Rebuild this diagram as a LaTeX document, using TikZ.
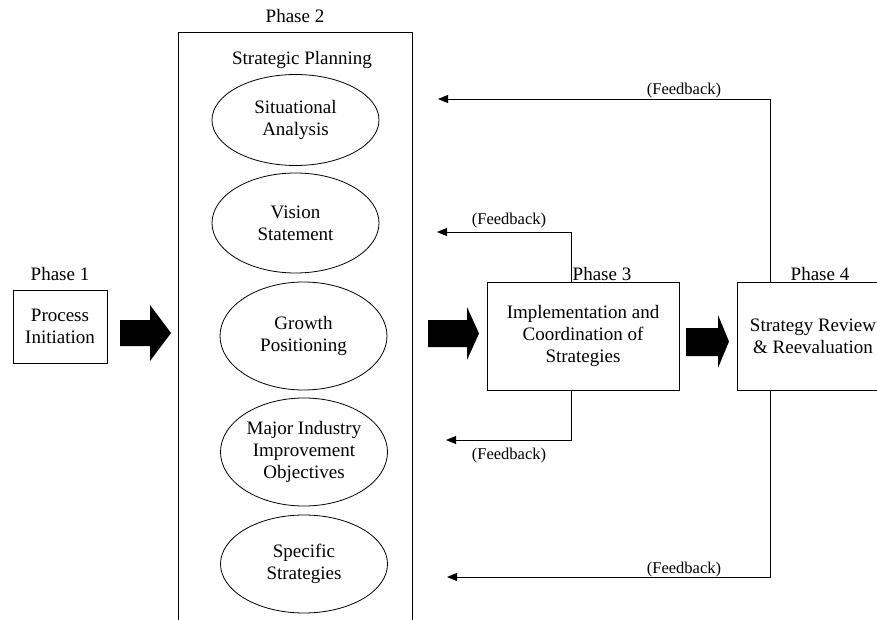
\documentclass[tikz,border=0pt]{standalone}
\usepackage{fontspec}
\setmainfont{Liberation Serif}
\usetikzlibrary{arrows.meta,shapes.geometric}
\begin{document}
\begin{tikzpicture}[x=1pt,y=-1pt,
  txt/.style={font=\fontsize{19}{22}\selectfont, align=center, inner sep=0pt},
  fbtxt/.style={font=\fontsize{16.5}{19}\selectfont, inner sep=0pt},
  boxnode/.style={txt, draw, line width=0.9pt},
  oval/.style={txt, draw, ellipse, line width=0.8pt, minimum width=167pt},
  fb/.style={line width=0.9pt, -{Triangle[length=10pt,width=8pt]}},
  blockarrow/.style={fill=black}
]
\useasboundingbox (0,0) rectangle (877,620);
\clip (0,0) rectangle (877,620);

% Phase 1
\node[txt] (ph1) at (60,274) {Phase 1};
\node[boxnode, minimum width=94pt, minimum height=73pt] (p1) at (60,326.5) {Process\\Initiation};

% Phase 2
\node[txt] (ph2) at (295,16) {Phase 2};
\node[draw, line width=0.9pt, minimum width=234pt, minimum height=620pt, inner sep=0pt] (p2) at (295,342) {};
\node[txt] (sp) at (302,60) {Strategic Planning};
\node[oval, minimum height=91pt] (e1) at (295.5,120) {Situational\\Analysis};
\node[oval, minimum height=100pt] (e2) at (295.5,223) {Vision\\Statement};
\node[oval, minimum height=108pt] (e3) at (303.5,336) {Growth\\Positioning};
\node[oval, minimum height=108pt] (e4) at (304,452) {Major Industry\\Improvement\\Objectives};
\node[oval, minimum height=98pt] (e5) at (304,564) {Specific\\Strategies};

% Phase 3
\node[txt] (ph3) at (602,274) {Phase 3};
\node[boxnode, minimum width=192pt, minimum height=108pt] (p3) at (583,336) {Implementation and\\Coordination of\\Strategies};

% Phase 4
\node[txt] (ph4) at (820,274) {Phase 4};
\node[boxnode, minimum width=152pt, minimum height=108pt] (p4) at (813,336) {Strategy Review\\\& Reevaluation};

% Block arrows
\fill[blockarrow] (120,320) -- (150,320) -- (150,305) -- (171,333) -- (150,361) -- (150,346) -- (120,346) -- cycle;
\fill[blockarrow] (428,320) -- (467,320) -- (467,307) -- (479,333.5) -- (467,360) -- (467,347) -- (428,347) -- cycle;
\fill[blockarrow] (686,328) -- (718,328) -- (718,315) -- (729,341.5) -- (718,368) -- (718,356) -- (686,356) -- cycle;

% Feedback connectors
\coordinate (fb0) at (438,99);
\coordinate (fb1) at (437,232);
\coordinate (fb2) at (446,440);
\coordinate (fb3) at (447,577);
\draw[fb] ([xshift=-43pt]p4.north) |- (fb0);
\draw[fb] ([xshift=-12pt]p3.north) |- (fb1);
\draw[fb] ([xshift=-12pt]p3.south) |- (fb2);
\draw[fb] ([xshift=-43pt]p4.south) |- (fb3);

\node[fbtxt] (l0) at (684,91) {(Feedback)};
\node[fbtxt] (l1) at (509,221) {(Feedback)};
\node[fbtxt] (l2) at (509,456) {(Feedback)};
\node[fbtxt] (l3) at (684,570) {(Feedback)};
\end{tikzpicture}
\end{document}
